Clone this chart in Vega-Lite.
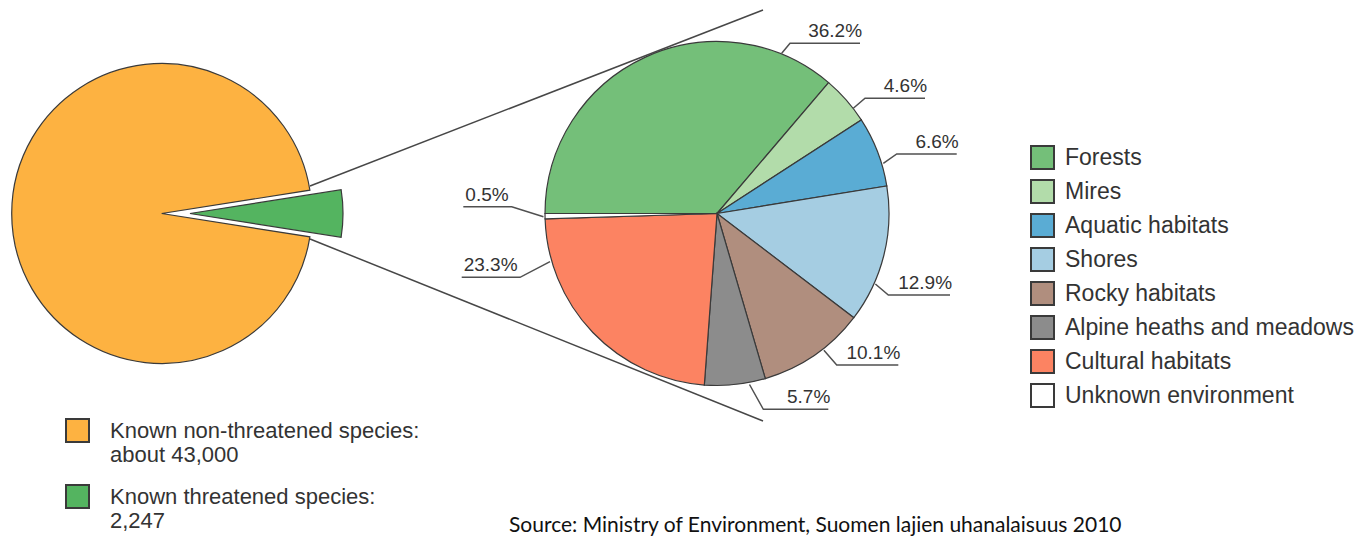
{
  "$schema": "https://vega.github.io/schema/vega-lite/v6.json",
  "description": "Pie-of-pie: share of threatened species among known species in Finland, and the primary habitats of the threatened species. Coordinates of annotations are given in units of the habitat pie's radius, centred on that pie.",
  "width": 1367,
  "height": 544,
  "padding": 0,
  "autosize": {"type": "none"},
  "background": "white",
  "config": {"view": {"stroke": null}, "font": "Liberation Sans"},
  "datasets": {
    "species": [
      {"status": "Known threatened species: 2,247", "species": 2247},
      {"status": "Known non-threatened species: about 43,000", "species": 43000}
    ],
    "threatened": [
      {"habitat": "Forests", "share": 0.362},
      {"habitat": "Mires", "share": 0.046},
      {"habitat": "Aquatic habitats", "share": 0.066},
      {"habitat": "Shores", "share": 0.129},
      {"habitat": "Rocky habitats", "share": 0.101},
      {"habitat": "Alpine heaths and meadows", "share": 0.057},
      {"habitat": "Cultural habitats", "share": 0.233},
      {"habitat": "Unknown environment", "share": 0.005}
    ],
    "leaders": [
      {"habitat": "Forests", "step": 1, "u": 0.3784, "v": 0.9368},
      {"habitat": "Forests", "step": 2, "u": 0.4269, "v": 0.9953},
      {"habitat": "Forests", "step": 3, "u": 0.8363, "v": 0.9953},
      {"habitat": "Mires", "step": 1, "u": 0.7971, "v": 0.6152},
      {"habitat": "Mires", "step": 2, "u": 0.8655, "v": 0.6737},
      {"habitat": "Mires", "step": 3, "u": 1.2164, "v": 0.6737},
      {"habitat": "Aquatic habitats", "step": 1, "u": 0.9725, "v": 0.2936},
      {"habitat": "Aquatic habitats", "step": 2, "u": 1.0509, "v": 0.348},
      {"habitat": "Aquatic habitats", "step": 3, "u": 1.4018, "v": 0.348},
      {"habitat": "Shores", "step": 1, "u": 0.926, "v": -0.412},
      {"habitat": "Shores", "step": 2, "u": 1.0018, "v": -0.4766},
      {"habitat": "Shores", "step": 3, "u": 1.3626, "v": -0.4766},
      {"habitat": "Rocky habitats", "step": 1, "u": 0.625, "v": -0.8},
      {"habitat": "Rocky habitats", "step": 2, "u": 0.7, "v": -0.886},
      {"habitat": "Rocky habitats", "step": 3, "u": 1.0602, "v": -0.886},
      {"habitat": "Alpine heaths and meadows", "step": 1, "u": 0.19, "v": -1.0},
      {"habitat": "Alpine heaths and meadows", "step": 2, "u": 0.2708, "v": -1.145},
      {"habitat": "Alpine heaths and meadows", "step": 3, "u": 0.6509, "v": -1.145},
      {"habitat": "Cultural habitats", "step": 1, "u": -0.9766, "v": -0.2819},
      {"habitat": "Cultural habitats", "step": 2, "u": -1.152, "v": -0.3731},
      {"habitat": "Cultural habitats", "step": 3, "u": -1.493, "v": -0.3731},
      {"habitat": "Unknown environment", "step": 1, "u": -1.0151, "v": -0.0187},
      {"habitat": "Unknown environment", "step": 2, "u": -1.2006, "v": 0.0398},
      {"habitat": "Unknown environment", "step": 3, "u": -1.4836, "v": 0.0398}
    ],
    "connectors": [
      {"edge": "upper", "step": 1, "u": -2.3801, "v": 0.1608},
      {"edge": "upper", "step": 2, "u": 0.269, "v": 1.1901},
      {"edge": "lower", "step": 1, "u": -2.3801, "v": -0.1491},
      {"edge": "lower", "step": 2, "u": 0.269, "v": -1.2135}
    ]
  },
  "resolve": {
    "scale": {"theta": "independent", "color": "independent"},
    "legend": {"color": "independent"}
  },
  "layer": [
    {
      "data": {"name": "species"},
      "transform": [{"window": [{"op": "row_number", "as": "slice_order"}]}],
      "mark": {"type": "arc", "outerRadius": 150, "stroke": "#3a3a3a", "strokeWidth": 1.2},
      "encoding": {
        "x": {"datum": -3.2474, "type": "quantitative", "scale": {"domain": [-4.193, 3.801], "nice": false, "zero": false}, "axis": null},
        "y": {"datum": 0, "type": "quantitative", "scale": {"domain": [-1.9327, 1.2485], "nice": false, "zero": false}, "axis": null},
        "theta": {"field": "species", "type": "quantitative", "scale": {"range": [1.4148, 7.698]}},
        "order": {"field": "slice_order"},
        "color": {
          "field": "status",
          "type": "nominal",
          "scale": {
            "domain": ["Known non-threatened species: about 43,000", "Known threatened species: 2,247"],
            "range": ["#FDB241", "#54B460"]
          },
          "legend": {
            "title": null,
            "orient": "none",
            "legendX": 65,
            "legendY": 418,
            "padding": 0,
            "symbolType": "square",
            "symbolSize": 529,
            "symbolStrokeColor": "#3a3a3a",
            "symbolStrokeWidth": 2,
            "symbolOpacity": 1,
            "labelFont": "Liberation Sans",
            "labelFontSize": 22,
            "labelColor": "#333333",
            "labelOffset": 20,
            "labelLimit": 500,
            "rowPadding": 15,
            "labelExpr": "[slice(datum.label, 0, indexof(datum.label, ':') + 1), slice(datum.label, indexof(datum.label, ':') + 2)]"
          }
        },
        "opacity": {"condition": {"test": "datum.status === 'Known threatened species: 2,247'", "value": 0}, "value": 1}
      }
    },
    {
      "data": {"name": "species"},
      "transform": [{"window": [{"op": "row_number", "as": "slice_order"}]}],
      "mark": {"type": "arc", "outerRadius": 153, "stroke": "#3a3a3a", "strokeWidth": 1.2},
      "encoding": {
        "x": {"datum": -3.0819, "type": "quantitative", "scale": {"domain": [-4.193, 3.801], "nice": false, "zero": false}, "axis": null},
        "y": {"datum": 0, "type": "quantitative", "scale": {"domain": [-1.9327, 1.2485], "nice": false, "zero": false}, "axis": null},
        "theta": {"field": "species", "type": "quantitative", "scale": {"range": [1.4148, 7.698]}},
        "order": {"field": "slice_order"},
        "color": {
          "field": "status",
          "type": "nominal",
          "scale": {
            "domain": ["Known non-threatened species: about 43,000", "Known threatened species: 2,247"],
            "range": ["#FDB241", "#54B460"]
          },
          "legend": null
        },
        "opacity": {"condition": {"test": "datum.status === 'Known threatened species: 2,247'", "value": 1}, "value": 0}
      }
    },
    {
      "data": {"name": "threatened"},
      "transform": [{"window": [{"op": "row_number", "as": "slice_order"}]}],
      "mark": {"type": "arc", "outerRadius": 172, "stroke": "#3a3a3a", "strokeWidth": 1.2},
      "encoding": {
        "x": {"datum": 0, "type": "quantitative", "scale": {"domain": [-4.193, 3.801], "nice": false, "zero": false}, "axis": null},
        "y": {"datum": 0, "type": "quantitative", "scale": {"domain": [-1.9327, 1.2485], "nice": false, "zero": false}, "axis": null},
        "theta": {"field": "share", "type": "quantitative", "scale": {"range": [-1.5708, 4.7124]}},
        "order": {"field": "slice_order"},
        "color": {
          "field": "habitat",
          "type": "nominal",
          "scale": {
            "domain": ["Forests", "Mires", "Aquatic habitats", "Shores", "Rocky habitats", "Alpine heaths and meadows", "Cultural habitats", "Unknown environment"],
            "range": ["#74BF79", "#B2DCAA", "#5AACD4", "#A5CDE2", "#B08E7E", "#8C8C8C", "#FC8362", "#FFFFFF"]
          },
          "legend": {
            "title": null,
            "orient": "none",
            "legendX": 1030,
            "legendY": 145,
            "padding": 0,
            "symbolType": "square",
            "symbolSize": 529,
            "symbolStrokeColor": "#3a3a3a",
            "symbolStrokeWidth": 2,
            "symbolOpacity": 1,
            "labelFont": "Liberation Sans",
            "labelFontSize": 23,
            "labelColor": "#333333",
            "labelOffset": 10,
            "labelLimit": 500,
            "rowPadding": 3
          }
        }
      }
    },
    {
      "data": {"name": "connectors"},
      "mark": {"type": "line", "stroke": "#474747", "strokeWidth": 1.5},
      "encoding": {
        "x": {"field": "u", "type": "quantitative", "scale": {"domain": [-4.193, 3.801], "nice": false, "zero": false}, "axis": null},
        "y": {"field": "v", "type": "quantitative", "scale": {"domain": [-1.9327, 1.2485], "nice": false, "zero": false}, "axis": null},
        "detail": {"field": "edge"},
        "order": {"field": "step"}
      }
    },
    {
      "data": {"name": "leaders"},
      "mark": {"type": "line", "stroke": "#505050", "strokeWidth": 1.5},
      "encoding": {
        "x": {"field": "u", "type": "quantitative", "scale": {"domain": [-4.193, 3.801], "nice": false, "zero": false}, "axis": null},
        "y": {"field": "v", "type": "quantitative", "scale": {"domain": [-1.9327, 1.2485], "nice": false, "zero": false}, "axis": null},
        "detail": {"field": "habitat"},
        "order": {"field": "step"}
      }
    },
    {
      "data": {"name": "leaders"},
      "transform": [
        {"filter": "datum.step === 3 && datum.u > 0"},
        {"lookup": "habitat", "from": {"data": {"name": "threatened"}, "key": "habitat", "fields": ["share"]}}
      ],
      "mark": {"type": "text", "align": "right", "baseline": "alphabetic", "dx": 2, "dy": -6, "fontSize": 19, "fill": "#333333", "font": "Liberation Sans"},
      "encoding": {
        "x": {"field": "u", "type": "quantitative", "scale": {"domain": [-4.193, 3.801], "nice": false, "zero": false}, "axis": null},
        "y": {"field": "v", "type": "quantitative", "scale": {"domain": [-1.9327, 1.2485], "nice": false, "zero": false}, "axis": null},
        "text": {"field": "share", "type": "quantitative", "format": ".1%"}
      }
    },
    {
      "data": {"name": "leaders"},
      "transform": [
        {"filter": "datum.step === 3 && datum.u < 0"},
        {"lookup": "habitat", "from": {"data": {"name": "threatened"}, "key": "habitat", "fields": ["share"]}}
      ],
      "mark": {"type": "text", "align": "left", "baseline": "alphabetic", "dx": 2, "dy": -6, "fontSize": 19, "fill": "#333333", "font": "Liberation Sans"},
      "encoding": {
        "x": {"field": "u", "type": "quantitative", "scale": {"domain": [-4.193, 3.801], "nice": false, "zero": false}, "axis": null},
        "y": {"field": "v", "type": "quantitative", "scale": {"domain": [-1.9327, 1.2485], "nice": false, "zero": false}, "axis": null},
        "text": {"field": "share", "type": "quantitative", "format": ".1%"}
      }
    },
    {
      "data": {"values": [{"note": "Source: Ministry of Environment, Suomen lajien uhanalaisuus 2010"}]},
      "mark": {"type": "text", "align": "left", "baseline": "alphabetic", "fontSize": 21, "fill": "#111111", "font": "Lato"},
      "encoding": {
        "x": {"datum": -1.2164, "type": "quantitative", "scale": {"domain": [-4.193, 3.801], "nice": false, "zero": false}, "axis": null},
        "y": {"datum": -1.8626, "type": "quantitative", "scale": {"domain": [-1.9327, 1.2485], "nice": false, "zero": false}, "axis": null},
        "text": {"field": "note"}
      }
    }
  ]
}
